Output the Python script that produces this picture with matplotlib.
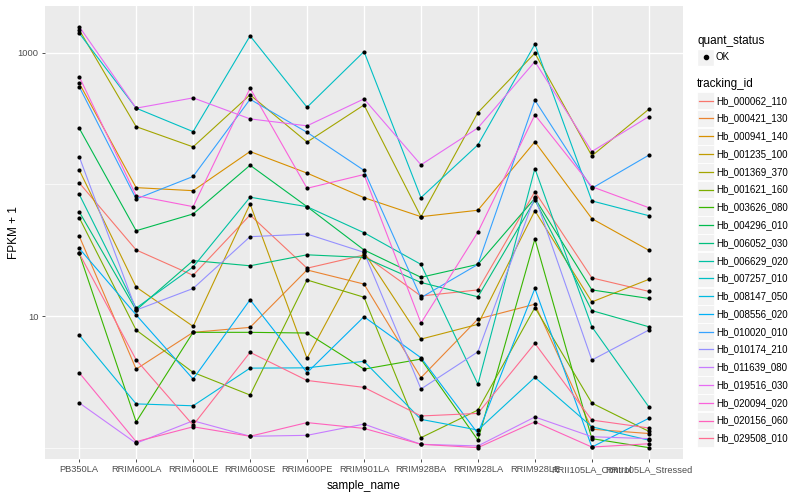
import numpy as np
import matplotlib
matplotlib.use("Agg")
import matplotlib.pyplot as plt
from matplotlib.patches import Rectangle
from matplotlib.lines import Line2D
from matplotlib.ticker import FixedLocator, NullFormatter

plt.rcParams['font.family'] = ['Liberation Sans', 'DejaVu Sans']

samples = ["PB350LA", "RRIM600LA", "RRIM600LE", "RRIM600SE", "RRIM600PE", "RRIM901LA",
           "RRIM928BA", "RRIM928LA", "RRIM928LE", "RRII105LA_Control", "RRII105LA_Stressed"]

# FPKM + 1 per gene, in sample order
hb_000062_110 = [103, 31.8, 20.4, 58.6, 23.1, 29.1, 14.2, 15.8, 88.1, 19.5, 15.4]
hb_000421_130 = [40.6, 3.95, 7.52, 8.2, 22.4, 17.5, 3.4, 9.49, 12.3, 1.38, 1.28]
hb_000941_140 = [589, 94.6, 89.7, 178, 122, 79.4, 56.9, 63.7, 211, 55.0, 31.6]
hb_001235_100 = [129, 16.6, 8.35, 71.1, 4.77, 30.5, 6.68, 8.65, 63.2, 12.8, 19.0]
hb_001369_370 = [1496, 275, 193, 480, 210, 402, 56.9, 352, 995, 165, 373]
hb_001621_160 = [56.0, 7.83, 3.73, 2.51, 18.8, 13.9, 1.19, 1.93, 11.6, 2.18, 1.33]
hb_003626_080 = [30.0, 1.57, 7.52, 7.52, 7.43, 3.95, 4.71, 1.14, 38.5, 1.17, 1.0]
hb_004296_010 = [268, 44.5, 59.7, 140, 67.8, 31.8, 19.7, 24.7, 78.5, 15.8, 13.6]
hb_006052_030 = [62.1, 11.1, 26.4, 24.1, 29.2, 27.9, 18.0, 14.0, 76.2, 11.0, 8.29]
hb_006629_020 = [84.2, 11.5, 23.6, 80.0, 67.8, 43.0, 24.7, 3.03, 132, 8.29, 2.04]
hb_007257_010 = [1412, 380, 252, 1346, 386, 1023, 79.4, 200, 1164, 75.0, 57.9]
hb_008147_050 = [7.17, 2.15, 2.08, 4.02, 4.04, 4.53, 1.64, 1.36, 3.42, 1.44, 1.14]
hb_008556_020 = [32.7, 10.2, 3.32, 13.3, 3.71, 9.88, 4.82, 1.28, 16.2, 1.01, 1.67]
hb_010020_010 = [554, 77.6, 115, 444, 249, 128, 13.8, 24.7, 437, 93.5, 167]
hb_010174_210 = [163, 11.1, 16.2, 40.1, 42.0, 30.5, 2.79, 5.35, 80.8, 4.63, 7.83]
hb_011639_080 = [2.19, 1.08, 1.6, 1.22, 1.24, 1.51, 1.06, 1.03, 1.71, 1.21, 1.17]
hb_019516_030 = [1585, 380, 455, 315, 279, 447, 141, 269, 859, 178, 328]
hb_020094_020 = [661, 82.2, 67.8, 539, 93.5, 119, 8.85, 43.5, 338, 96.2, 66.6]
hb_020156_060 = [3.71, 1.11, 1.44, 1.22, 1.55, 1.4, 1.06, 1.0, 1.57, 1.01, 1.07]
hb_029508_010 = [30.0, 4.65, 1.48, 5.3, 3.24, 2.87, 1.74, 1.82, 6.2, 1.62, 1.41]

tracking_ids = ["Hb_000062_110", "Hb_000421_130", "Hb_000941_140", "Hb_001235_100",
                "Hb_001369_370", "Hb_001621_160", "Hb_003626_080", "Hb_004296_010",
                "Hb_006052_030", "Hb_006629_020", "Hb_007257_010", "Hb_008147_050",
                "Hb_008556_020", "Hb_010020_010", "Hb_010174_210", "Hb_011639_080",
                "Hb_019516_030", "Hb_020094_020", "Hb_020156_060", "Hb_029508_010"]
series = [hb_000062_110, hb_000421_130, hb_000941_140, hb_001235_100, hb_001369_370,
          hb_001621_160, hb_003626_080, hb_004296_010, hb_006052_030, hb_006629_020,
          hb_007257_010, hb_008147_050, hb_008556_020, hb_010020_010, hb_010174_210,
          hb_011639_080, hb_019516_030, hb_020094_020, hb_020156_060, hb_029508_010]

# ggplot hue palette for 20 groups
colors = ["#F8766D", "#EA8331", "#D89000", "#C09B00", "#A3A500", "#7CAE00", "#39B600",
          "#00BB4E", "#00BF7D", "#00C1A3", "#00BFC4", "#00BAE0", "#00B0F6", "#35A2FF",
          "#9590FF", "#C77CFF", "#E76BF3", "#FA62DB", "#FF62BC", "#FF6C91"]

fig = plt.figure(figsize=(8, 5), dpi=100)
ax = fig.add_axes([45/800, 41/500, 638/800, 453.5/500])
ax.set_facecolor('#EBEBEB')

x = np.arange(len(samples))
for vals, col in zip(series, colors):
    ax.plot(x, vals, color=col, lw=0.8, zorder=2)
for vals in series:
    ax.scatter(x, vals, s=9, color='black', zorder=3, linewidths=0)

ax.set_yscale('log')
allv = np.concatenate([np.array(s, float) for s in series])
lo, hi = np.log10(allv.min()), np.log10(allv.max())
span = hi - lo
ax.set_ylim(10 ** (lo - 0.027 * span), 10 ** (hi + 0.05 * span))
ax.set_xlim(-0.6, len(samples) - 0.4)

ax.yaxis.set_major_locator(FixedLocator([10, 1000]))
ax.set_yticklabels(["10", "1000"])
ax.yaxis.set_minor_locator(FixedLocator([1, 100]))
ax.yaxis.set_minor_formatter(NullFormatter())
ax.set_xticks(x)
ax.set_xticklabels(samples)

ax.grid(which='major', color='white', lw=1.0)
ax.grid(which='minor', axis='y', color='white', lw=0.5)
ax.set_axisbelow(True)
for sp in ax.spines.values():
    sp.set_visible(False)
ax.tick_params(which='major', length=2.5, width=0.6, color='#333333',
               labelsize=6.7, labelcolor='#4D4D4D', pad=2)
ax.tick_params(which='minor', length=0)

ax.set_xlabel("sample_name", fontsize=8.5)
ax.set_ylabel("FPKM + 1", fontsize=8.5)
ax.xaxis.set_label_coords(0.5, -21/453.5)
ax.yaxis.set_label_coords(-25/638, 0.5)

# legend drawn in pixel coordinates
lax = fig.add_axes([0, 0, 1, 1], facecolor='none')
lax.set_xlim(0, 800)
lax.set_ylim(500, 0)
lax.axis('off')

lax.text(697, 41, "quant_status", fontsize=8.5, va='center', ha='left')
lax.add_patch(Rectangle((697, 48.5), 17, 17, facecolor='#F2F2F2', edgecolor='white'))
lax.add_line(Line2D([705.5], [57], marker='o', markersize=3, color='black', lw=0))
lax.text(716, 57, "OK", fontsize=7, va='center', ha='left')

lax.text(697, 84, "tracking_id", fontsize=8.5, va='center', ha='left')
for i, (tid, col) in enumerate(zip(tracking_ids, colors)):
    yc = 100.7 + i * 17.77
    lax.add_patch(Rectangle((697, yc - 8.6), 17, 17.2, facecolor='#F2F2F2', edgecolor='white', lw=0.6))
    lax.add_line(Line2D([698.5, 712.5], [yc, yc], color=col, lw=0.9))
    lax.text(716, yc, tid, fontsize=7, va='center', ha='left')

fig.savefig("out.png", dpi=100)
